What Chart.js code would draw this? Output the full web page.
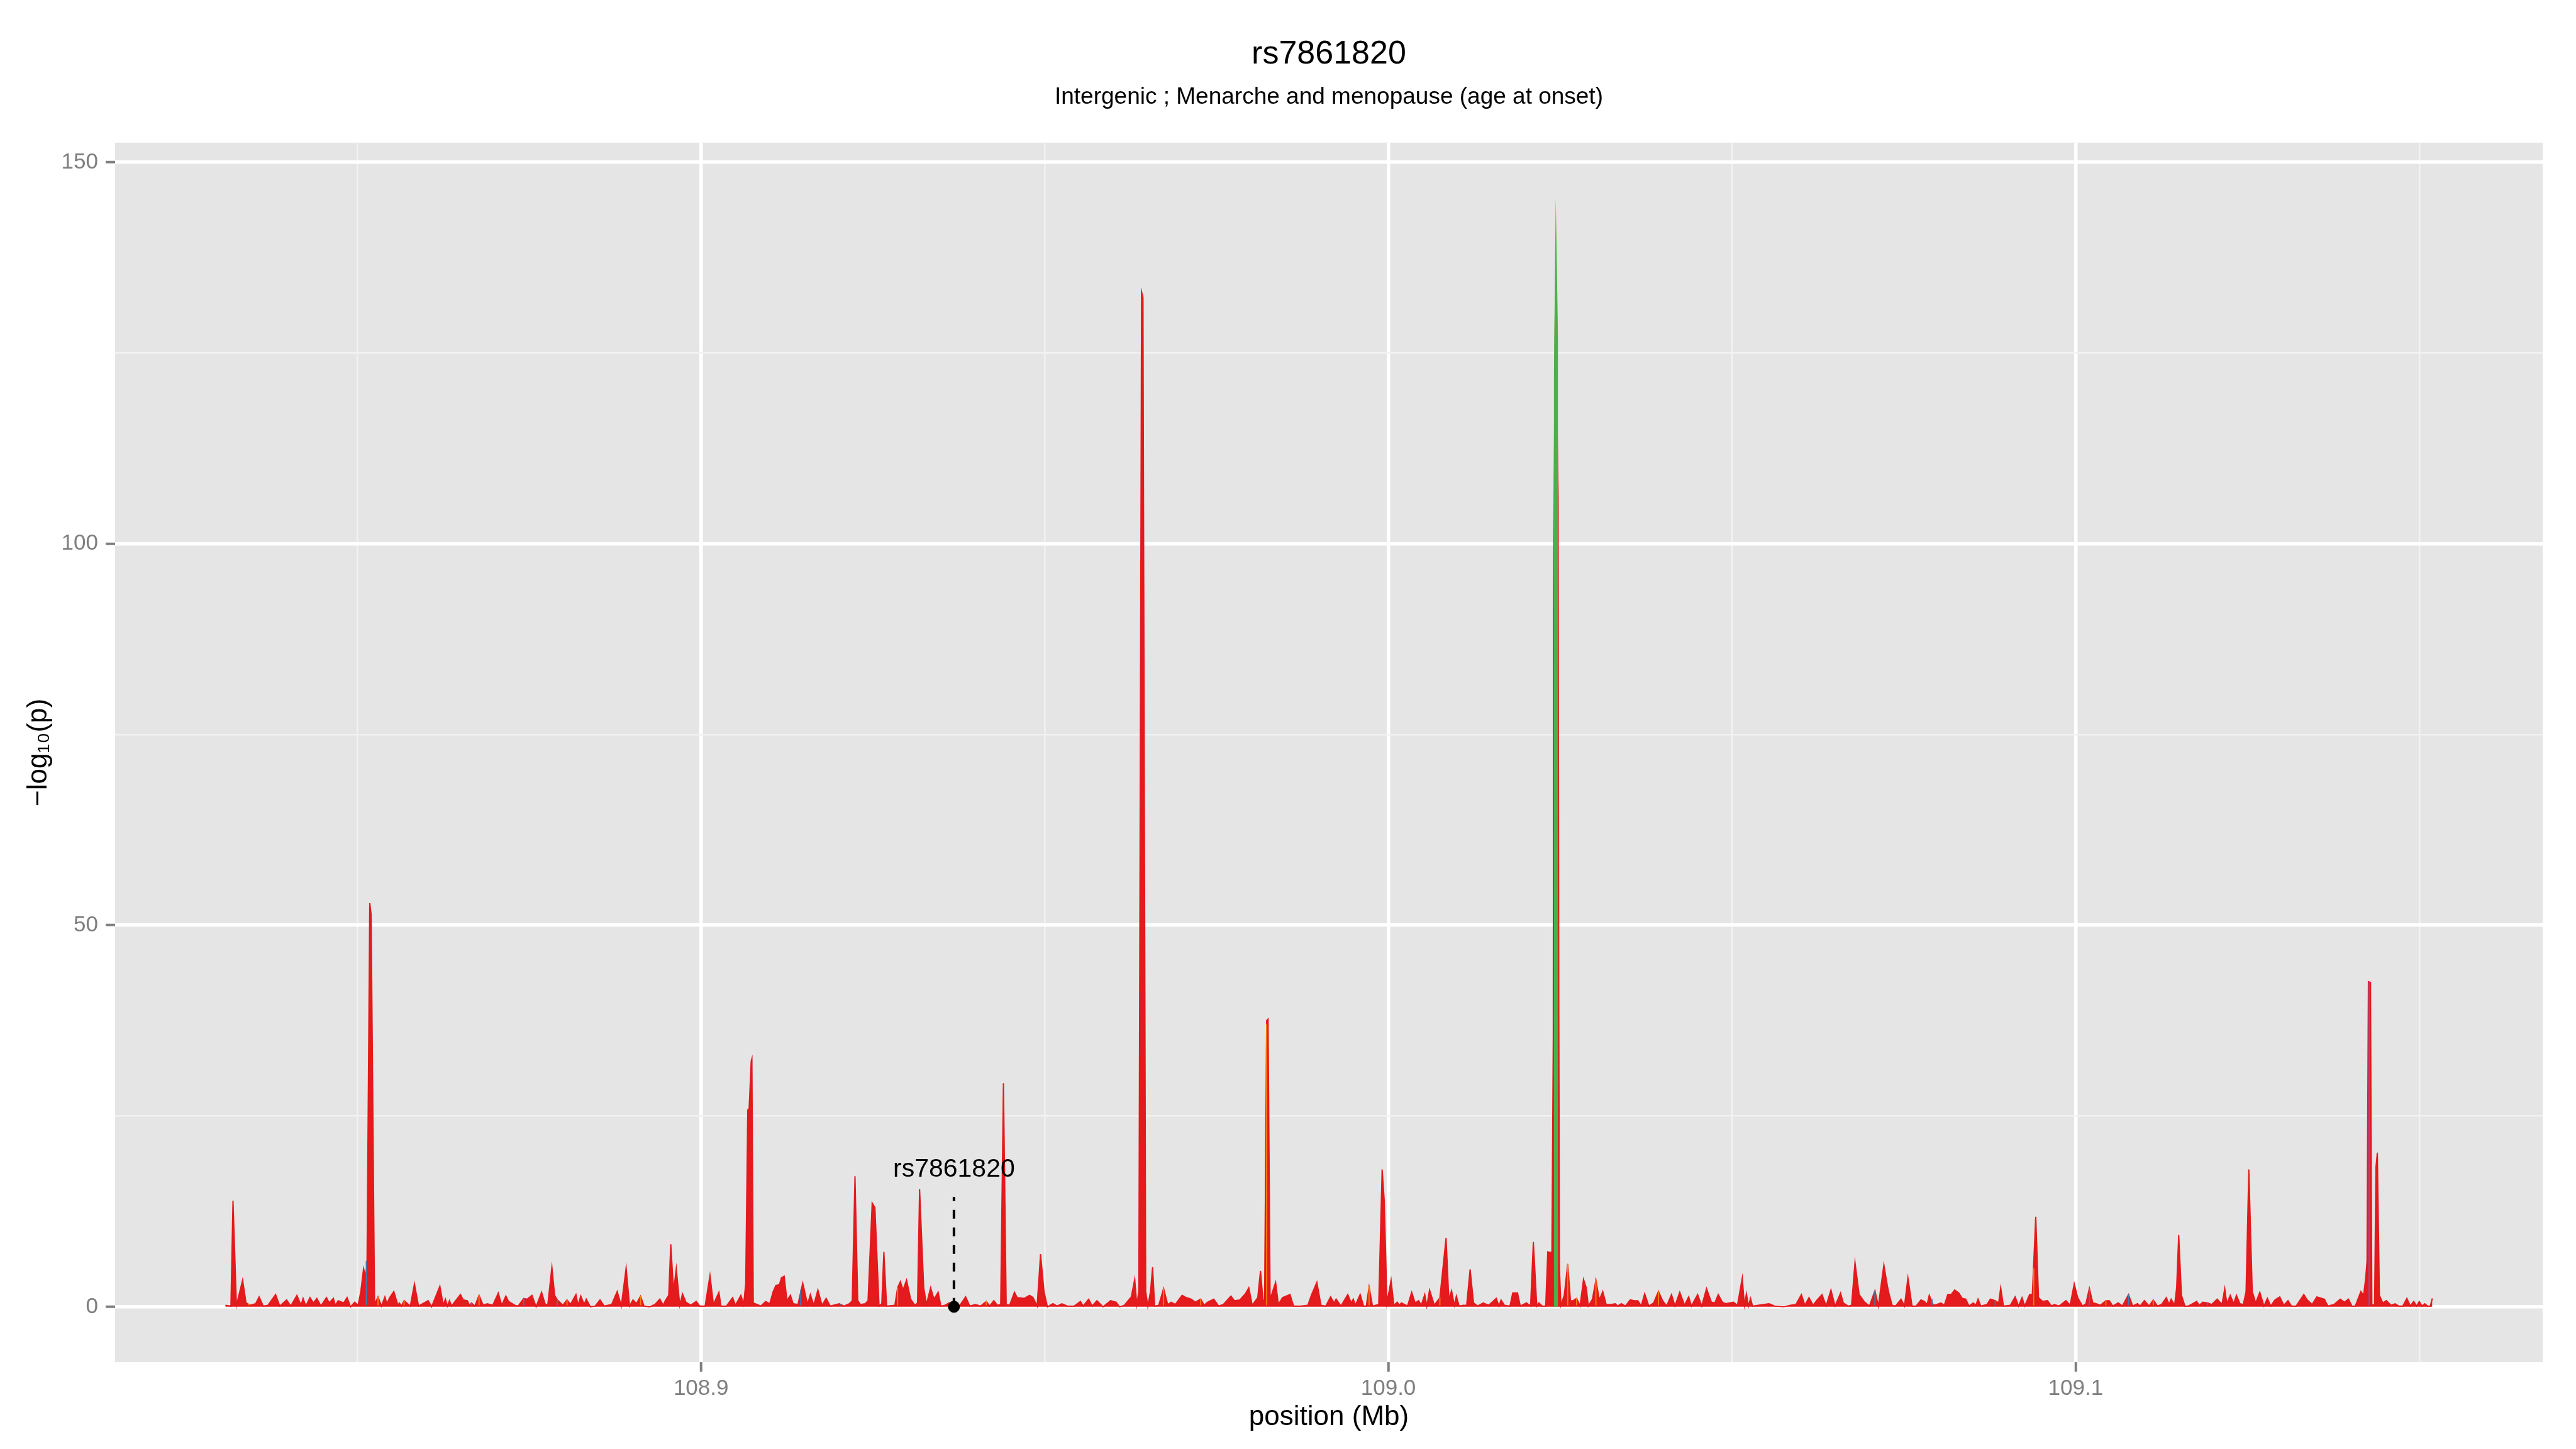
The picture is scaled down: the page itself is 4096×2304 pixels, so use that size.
<!DOCTYPE html>
<html lang="en">
<head>
<meta charset="UTF-8">
<title>rs7861820 - regional association</title>
<script src="https://cdn.jsdelivr.net/npm/chart.js"></script>
<style>
  html, body { margin: 0; padding: 0; background: #ffffff; }
  canvas { display: block; }
</style>
</head>
<body>
<canvas id="locus" width="4096" height="2304"></canvas>
<script>
// SNP positions (Mb) and -log10(p)
const snpPos = [
  108.8308, 108.8316, 108.8319, 108.8324, 108.8333, 108.8338, 108.8344, 108.8352, 108.8357, 108.8363,
  108.8370, 108.8381, 108.8387, 108.8397, 108.8403, 108.8412, 108.8418, 108.8421, 108.8425, 108.8431,
  108.8436, 108.8441, 108.8447, 108.8455, 108.8459, 108.8465, 108.8468, 108.8472, 108.8480, 108.8485,
  108.8490, 108.8496, 108.8501, 108.8505, 108.8509, 108.8512, 108.8514, 108.8518, 108.8520, 108.8525,
  108.8530, 108.8535, 108.8540, 108.8543, 108.8547, 108.8553, 108.8559, 108.8561, 108.8564, 108.8568,
  108.8577, 108.8583, 108.8589, 108.8603, 108.8608, 108.8620, 108.8625, 108.8628, 108.8631, 108.8634,
  108.8637, 108.8643, 108.8650, 108.8654, 108.8660, 108.8663, 108.8666, 108.8671, 108.8677, 108.8683,
  108.8689, 108.8697, 108.8705, 108.8710, 108.8716, 108.8720, 108.8729, 108.8734, 108.8742, 108.8747,
  108.8754, 108.8760, 108.8768, 108.8773, 108.8777, 108.8783, 108.8787, 108.8791, 108.8799, 108.8805,
  108.8810, 108.8818, 108.8821, 108.8825, 108.8830, 108.8833, 108.8839, 108.8846, 108.8853, 108.8859,
  108.8870, 108.8878, 108.8884, 108.8891, 108.8896, 108.8901, 108.8906, 108.8912, 108.8917, 108.8925,
  108.8933, 108.8940, 108.8945, 108.8948, 108.8953, 108.8956, 108.8960, 108.8964, 108.8969, 108.8973,
  108.8978, 108.8985, 108.8993, 108.8998, 108.9006, 108.9013, 108.9018, 108.9026, 108.9029, 108.9037,
  108.9046, 108.9050, 108.9058, 108.9062, 108.9065, 108.9068, 108.9070, 108.9073, 108.9074, 108.9076,
  108.9087, 108.9094, 108.9100, 108.9105, 108.9109, 108.9114, 108.9117, 108.9121, 108.9125, 108.9130,
  108.9134, 108.9141, 108.9148, 108.9155, 108.9159, 108.9164, 108.9170, 108.9176, 108.9182, 108.9188,
  108.9201, 108.9208, 108.9216, 108.9220, 108.9224, 108.9228, 108.9232, 108.9239, 108.9243, 108.9249,
  108.9253, 108.9259, 108.9263, 108.9266, 108.9270, 108.9282, 108.9286, 108.9290, 108.9294, 108.9299,
  108.9305, 108.9311, 108.9315, 108.9318, 108.9324, 108.9328, 108.9334, 108.9339, 108.9345, 108.9349,
  108.9355, 108.9361, 108.9368, 108.9376, 108.9385, 108.9391, 108.9399, 108.9407, 108.9415, 108.9420,
  108.9426, 108.9431, 108.9436, 108.9440, 108.9444, 108.9449, 108.9456, 108.9460, 108.9470, 108.9478,
  108.9483, 108.9489, 108.9494, 108.9499, 108.9504, 108.9512, 108.9518, 108.9525, 108.9533, 108.9543,
  108.9552, 108.9556, 108.9564, 108.9569, 108.9576, 108.9585, 108.9596, 108.9604, 108.9609, 108.9616,
  108.9626, 108.9631, 108.9634, 108.9637, 108.9641, 108.9643, 108.9647, 108.9650, 108.9654, 108.9657,
  108.9660, 108.9666, 108.9673, 108.9679, 108.9684, 108.9690, 108.9700, 108.9706, 108.9713, 108.9719,
  108.9727, 108.9732, 108.9737, 108.9746, 108.9753, 108.9760, 108.9771, 108.9776, 108.9784, 108.9792,
  108.9797, 108.9802, 108.9810, 108.9814, 108.9818, 108.9820, 108.9823, 108.9825, 108.9828, 108.9836,
  108.9840, 108.9846, 108.9857, 108.9862, 108.9872, 108.9883, 108.9888, 108.9896, 108.9902, 108.9909,
  108.9916, 108.9921, 108.9924, 108.9931, 108.9941, 108.9946, 108.9949, 108.9952, 108.9959, 108.9964,
  108.9968, 108.9972, 108.9977, 108.9986, 108.9991, 108.9994, 108.9998, 109.0004, 109.0008, 109.0013,
  109.0016, 109.0019, 109.0028, 109.0034, 109.0039, 109.0044, 109.0048, 109.0053, 109.0056, 109.0060,
  109.0067, 109.0075, 109.0084, 109.0088, 109.0092, 109.0096, 109.0099, 109.0103, 109.0109, 109.0114,
  109.0119, 109.0124, 109.0130, 109.0138, 109.0146, 109.0157, 109.0161, 109.0164, 109.0169, 109.0177,
  109.0181, 109.0188, 109.0192, 109.0201, 109.0207, 109.0211, 109.0216, 109.0219, 109.0224, 109.0229,
  109.0232, 109.0236, 109.0238, 109.0240, 109.02405, 109.0243, 109.0247, 109.0248, 109.0249, 109.0251,
  109.0256, 109.0261, 109.0265, 109.0269, 109.0274, 109.0279, 109.0284, 109.0288, 109.0291, 109.0297,
  109.0302, 109.0307, 109.0312, 109.0317, 109.0324, 109.0330, 109.0334, 109.0339, 109.0345, 109.0352,
  109.0358, 109.0363, 109.0368, 109.0373, 109.0379, 109.0386, 109.0393, 109.0399, 109.0405, 109.0412,
  109.0417, 109.0424, 109.0431, 109.0437, 109.0441, 109.0450, 109.0456, 109.0463, 109.0470, 109.0475,
  109.0480, 109.0486, 109.0491, 109.0502, 109.0508, 109.0515, 109.0518, 109.0521, 109.0524, 109.0527,
  109.0530, 109.0538, 109.0546, 109.0554, 109.0562, 109.0575, 109.0585, 109.0593, 109.0601, 109.0606,
  109.0612, 109.0618, 109.0624, 109.0631, 109.0637, 109.0644, 109.0650, 109.0658, 109.0662, 109.0669,
  109.0674, 109.0679, 109.0685, 109.0693, 109.0700, 109.0708, 109.0713, 109.0721, 109.0726, 109.0728,
  109.0733, 109.0738, 109.0746, 109.0751, 109.0756, 109.0762, 109.0768, 109.0775, 109.0780, 109.0784,
  109.0787, 109.0793, 109.0798, 109.0804, 109.0809, 109.0814, 109.0819, 109.0824, 109.0830, 109.0835,
  109.0840, 109.0845, 109.0851, 109.0855, 109.0858, 109.0862, 109.0871, 109.0876, 109.0883, 109.0888,
  109.0891, 109.0895, 109.0905, 109.0912, 109.0917, 109.0922, 109.0926, 109.0933, 109.0937, 109.0942,
  109.0946, 109.0952, 109.0959, 109.0965, 109.0969, 109.0976, 109.0986, 109.0992, 109.0998, 109.1003,
  109.1010, 109.1015, 109.1020, 109.1025, 109.1030, 109.1036, 109.1044, 109.1049, 109.1054, 109.1062,
  109.1068, 109.1077, 109.1083, 109.1090, 109.1094, 109.1100, 109.1107, 109.1113, 109.1119, 109.1125,
  109.1132, 109.1136, 109.1139, 109.1144, 109.1147, 109.1150, 109.1154, 109.1159, 109.1164, 109.1170,
  109.1176, 109.1180, 109.1185, 109.1192, 109.1198, 109.1206, 109.1213, 109.1217, 109.1220, 109.1225,
  109.1230, 109.1234, 109.1239, 109.1244, 109.1248, 109.1252, 109.1257, 109.1262, 109.1268, 109.1274,
  109.1279, 109.1284, 109.1290, 109.1297, 109.1303, 109.1309, 109.1314, 109.1321, 109.1332, 109.1337,
  109.1344, 109.1351, 109.1362, 109.1367, 109.1376, 109.1385, 109.1391, 109.1397, 109.1402, 109.1407,
  109.1415, 109.1419, 109.1422, 109.1424, 109.1426, 109.1429, 109.1431, 109.1435, 109.1437, 109.1439,
  109.1442, 109.1447, 109.1452, 109.1459, 109.1465, 109.1470, 109.1476, 109.1482, 109.1487, 109.1492,
  109.1496, 109.1500, 109.1504, 109.1508, 109.1512, 109.1516, 109.1519
];
const snpLogP = [
  0.2, 0.1, 13.9, 0.2, 3.5, 0.5, 0.2, 0.4, 1.3, 0.1,
  0.2, 1.6, 0.1, 0.9, 0.1, 1.5, 0.2, 1.1, 0.1, 1.2,
  0.5, 1.1, 0.1, 1.2, 0.5, 1.1, 0.2, 0.8, 0.5, 1.2,
  0.0, 0.6, 0.2, 2.0, 5.0, 4.0, 5.5, 52.9, 51.4, 0.3,
  1.3, 0.1, 1.3, 0.4, 1.2, 2.0, 0.2, 0.5, 0.1, 0.8,
  0.1, 3.0, 0.1, 0.8, 0.0, 2.7, 0.2, 1.0, 0.1, 0.8,
  0.1, 0.8, 1.6, 0.9, 0.8, 0.2, 0.5, 0.1, 1.5, 0.2,
  0.4, 0.2, 1.8, 0.2, 1.4, 0.7, 0.2, 0.1, 1.1, 1.0,
  1.5, 0.0, 1.9, 0.4, 0.2, 5.2, 1.5, 0.9, 0.2, 0.9,
  0.3, 1.6, 0.2, 1.4, 0.3, 1.0, 0.0, 0.1, 0.9, 0.1,
  0.3, 2.0, 0.1, 5.1, 0.1, 0.9, 0.4, 1.4, 0.1, 0.0,
  0.3, 1.0, 0.2, 0.8, 1.5, 8.2, 2.0, 5.0, 0.2, 1.7,
  0.6, 0.2, 0.7, 0.1, 0.1, 4.1, 0.3, 1.9, 0.1, 0.1,
  1.2, 0.2, 1.5, 0.3, 3.0, 25.8, 26.0, 32.2, 32.5, 0.5,
  0.1, 0.7, 0.4, 2.0, 2.8, 2.9, 3.8, 4.0, 0.8, 1.5,
  0.4, 0.3, 3.1, 0.3, 1.6, 0.2, 2.2, 0.2, 1.1, 0.1,
  0.4, 0.1, 0.4, 0.8, 17.1, 0.8, 0.3, 0.4, 0.8, 13.6,
  13.0, 0.1, 0.4, 7.2, 0.1, 0.2, 2.5, 3.3, 2.2, 3.5,
  1.0, 0.2, 0.5, 15.4, 2.5, 0.3, 2.5, 1.0, 1.9, 0.1,
  0.2, 0.5, 0.4, 0.1, 1.3, 0.1, 0.3, 0.1, 0.7, 0.1,
  0.8, 0.2, 0.3, 29.3, 0.3, 0.2, 1.9, 1.2, 1.1, 1.5,
  1.2, 0.1, 6.9, 2.0, 0.0, 0.4, 0.1, 0.4, 0.1, 0.1,
  0.7, 0.1, 1.0, 0.1, 0.8, 0.0, 0.8, 0.6, 0.0, 0.2,
  1.3, 3.6, 0.3, 2.0, 133.0, 132.3, 2.0, 0.1, 2.0, 5.2,
  0.1, 0.2, 2.4, 0.3, 0.6, 0.3, 1.5, 1.2, 1.0, 0.6,
  1.0, 0.2, 0.6, 1.0, 0.1, 0.3, 1.4, 0.8, 0.9, 1.7,
  2.5, 0.2, 1.2, 4.7, 0.5, 1.0, 37.5, 37.7, 1.0, 3.2,
  0.3, 1.2, 1.6, 0.1, 0.1, 0.2, 1.5, 3.2, 0.2, 0.1,
  1.3, 0.5, 1.0, 0.1, 1.6, 0.5, 1.0, 0.2, 1.6, 0.1,
  0.1, 2.6, 0.1, 0.3, 18.0, 14.0, 0.5, 3.5, 0.2, 0.6,
  0.2, 0.5, 0.1, 1.9, 0.5, 0.8, 0.2, 1.6, 0.1, 2.2,
  0.2, 1.2, 9.0, 1.0, 2.1, 0.2, 1.4, 0.1, 0.2, 0.2,
  4.9, 0.5, 0.1, 0.5, 0.2, 1.1, 0.1, 0.9, 0.2, 0.1,
  1.8, 1.8, 0.1, 0.5, 0.1, 8.5, 0.1, 0.5, 0.1, 0.1,
  7.2, 7.1, 7.2, 35.0, 91.0, 132.0, 106.0, 40.0, 5.0, 0.2,
  1.5, 5.6, 0.8, 0.8, 1.1, 0.1, 3.6, 2.5, 0.1, 1.0,
  3.5, 0.9, 2.0, 0.3, 0.3, 0.4, 0.1, 0.4, 0.1, 0.9,
  0.8, 0.8, 0.1, 1.7, 0.1, 0.5, 2.0, 0.8, 0.1, 1.6,
  0.1, 1.9, 0.2, 1.3, 0.1, 1.6, 0.1, 2.4, 0.6, 0.5,
  1.6, 0.6, 0.4, 0.6, 0.2, 3.8, 0.2, 1.7, 0.1, 1.1,
  0.1, 0.2, 0.3, 0.4, 0.1, 0.0, 0.2, 0.3, 1.6, 0.2,
  1.2, 0.2, 0.9, 1.6, 0.1, 2.2, 0.1, 1.8, 0.5, 0.1,
  0.2, 5.8, 1.6, 0.6, 0.1, 2.1, 0.1, 5.5, 2.8, 1.9,
  0.2, 0.1, 1.0, 0.1, 3.8, 0.1, 0.1, 0.9, 0.7, 0.3,
  1.5, 0.2, 0.3, 0.5, 0.2, 1.6, 1.6, 2.2, 1.8, 1.1,
  1.0, 0.1, 0.5, 0.2, 1.0, 0.1, 0.3, 1.0, 0.8, 0.5,
  2.5, 0.1, 0.2, 1.3, 0.1, 1.2, 0.1, 1.6, 1.6, 11.8,
  1.2, 0.7, 0.8, 0.1, 0.3, 0.1, 0.8, 0.2, 3.0, 1.2,
  0.1, 0.4, 2.4, 0.5, 0.4, 0.2, 0.8, 0.8, 0.1, 0.5,
  0.1, 1.6, 0.1, 0.4, 0.1, 0.8, 0.1, 0.9, 0.1, 0.3,
  1.2, 0.3, 1.0, 0.2, 2.5, 9.4, 1.5, 0.1, 0.1, 0.4,
  0.7, 0.2, 0.6, 0.5, 0.3, 1.0, 0.3, 2.4, 0.4, 1.5,
  0.4, 1.5, 0.4, 0.3, 2.0, 18.0, 2.0, 0.5, 1.9, 0.1,
  1.1, 0.1, 0.9, 1.3, 0.2, 0.8, 0.1, 0.1, 1.6, 0.9,
  0.3, 1.3, 1.0, 0.1, 0.3, 1.0, 0.6, 1.0, 0.1, 0.1,
  2.0, 1.5, 3.7, 6.0, 42.6, 42.5, 0.3, 0.2, 18.3, 20.2,
  1.5, 0.5, 0.8, 0.2, 0.4, 0.1, 0.1, 1.1, 0.1, 0.7,
  0.1, 0.7, 0.1, 0.4, 0.1, 0.1, 1.1
];

// SNPs in the other LD classes, drawn over the red area
const greenPos = [109.02407, 109.02409, 109.02436, 109.02469, 109.02471];
const greenLogP = [0, 122, 145.3, 127, 0];
const orangePos = [108.8342, 108.8530, 108.8568, 108.8677, 108.8805, 108.8912, 108.9286, 108.9415, 108.9673, 108.9727,
                   108.9823, 108.9972, 109.0075, 109.0261, 109.0274, 109.0302, 109.0393, 109.0939, 109.1044, 109.1113];
const orangeLogP = [0.4, 1.3, 0.8, 1.5, 0.9, 1.4, 2.5, 0.7, 2.4, 1.0,
                    37.0, 2.6, 1.2, 5.6, 1.1, 3.5, 2.0, 5.0, 0.8, 0.9];
const bluePos = [108.8513, 108.8666, 108.8742, 108.8791, 108.9145, 108.9203, 109.0708, 109.0791, 109.0883, 109.1077, 109.1192];
const blueLogP = [6.0, 0.5, 1.1, 0.9, 2.2, 0.3, 2.1, 1.0, 0.8, 1.6, 0.5];
const purplePos = [109.1020, 109.1427];
const purpleLogP = [2.4, 42.5];

// lead SNP annotation
const leadLabel = 'rs7861820';
const leadPos = 108.9368;
const leadLineTop = 14.4;
const leadLabelY = 18;

// axis ticks
const xMajor = [108.9, 109.0, 109.1];
const xMinor = [108.85, 108.95, 109.05, 109.15];
const yMajor = [0, 50, 100, 150];
const yMinor = [25, 75, 125];

const FONT = '"Liberation Sans", Arial, Helvetica, sans-serif';
Chart.defaults.font.family = FONT;

// ggplot-style 5% expansion of the data range
const allX = snpPos;
const allY = snpLogP.concat(greenLogP);
const xSpan = Math.max(...allX) - Math.min(...allX);
const ySpan = Math.max(...allY) - Math.min(...allY);
const xMin = Math.min(...allX) - 0.05 * xSpan, xMax = Math.max(...allX) + 0.05 * xSpan;
const yMin = Math.min(...allY) - 0.05 * ySpan, yMax = Math.max(...allY) + 0.05 * ySpan;

const pts = (xs, ys) => xs.map((x, i) => ({ x: x, y: ys[i] }));
const isMajor = (list, v) => list.some(m => Math.abs(m - v) < 1e-9);

function sliver(label, xs, ys, color, order) {
  return {
    type: 'bar', label: label, data: pts(xs, ys), order: order,
    backgroundColor: color, borderWidth: 0, barThickness: 1.2, grouped: false
  };
}

const panelBg = {
  id: 'panelBg',
  beforeDraw(chart) {
    const { ctx, chartArea: a } = chart;
    ctx.save();
    ctx.fillStyle = '#E5E5E5';
    ctx.fillRect(a.left, a.top, a.right - a.left, a.bottom - a.top);
    ctx.restore();
  }
};

const leadText = {
  id: 'leadText',
  afterDatasetsDraw(chart) {
    const { ctx, scales } = chart;
    ctx.save();
    ctx.font = '41px ' + FONT;
    ctx.fillStyle = '#000000';
    ctx.textAlign = 'center';
    ctx.textBaseline = 'middle';
    ctx.fillText(leadLabel, scales.x.getPixelForValue(leadPos), scales.y.getPixelForValue(leadLabelY));
    ctx.restore();
  }
};

function gridOpts(major) {
  return {
    color: c => isMajor(major, c.tick.value) ? '#FFFFFF' : '#F2F2F2',
    lineWidth: c => isMajor(major, c.tick.value) ? 5.5 : 2.5,
    tickColor: c => isMajor(major, c.tick.value) ? '#7F7F7F' : 'rgba(0,0,0,0)',
    tickWidth: 4,
    tickLength: 15,
    drawTicks: true,
    offset: false
  };
}

new Chart(document.getElementById('locus'), {
  type: 'line',
  data: {
    datasets: [
      { label: 'lead', data: [{ x: leadPos, y: 0 }], order: 0, showLine: false,
        pointRadius: 9.5, pointBackgroundColor: '#000000', pointBorderWidth: 0 },
      { label: 'leadLine', data: [{ x: leadPos, y: 0 }, { x: leadPos, y: leadLineTop }], order: 1,
        borderColor: '#000000', borderWidth: 4, borderDash: [14, 14], pointRadius: 0, fill: false },
      sliver('purple', purplePos, purpleLogP, '#984EA3', 2),
      sliver('blue', bluePos, blueLogP, '#377EB8', 3),
      sliver('orange', orangePos, orangeLogP, '#FF7F00', 4),
      { label: 'green', data: pts(greenPos, greenLogP), order: 5, fill: 'origin',
        backgroundColor: '#4DAF4A', borderColor: 'rgba(0,0,0,0)', borderWidth: 0, pointRadius: 0, tension: 0 },
      { label: 'red', data: pts(snpPos, snpLogP), order: 6, fill: 'origin',
        backgroundColor: '#E41A1C', borderColor: '#E41A1C', borderWidth: 2, pointRadius: 0, tension: 0 }
    ]
  },
  options: {
    responsive: false,
    animation: false,
    events: [],
    layout: { padding: { left: 0, right: 53, top: 0, bottom: 0 } },
    plugins: {
      legend: { display: false },
      tooltip: { enabled: false },
      // fullSize off so the titles centre over the panel, as ggplot does
      title: {
        display: true, fullSize: false, text: 'rs7861820', color: '#000000',
        font: { size: 52, weight: 'normal' }, padding: { top: 55, bottom: 0 }
      },
      subtitle: {
        display: true, fullSize: false, text: 'Intergenic ; Menarche and menopause (age at onset)', color: '#000000',
        font: { size: 37, weight: 'normal' }, padding: { top: 15, bottom: 50 }
      }
    },
    scales: {
      x: {
        type: 'linear', min: xMin, max: xMax, bounds: 'data', offset: false,
        afterBuildTicks: s => { s.ticks = xMajor.concat(xMinor).sort((a, b) => a - b).map(v => ({ value: v })); },
        afterFit: s => { s.height = 138; },
        grid: gridOpts(xMajor),
        border: { display: false },
        ticks: {
          autoSkip: false, maxRotation: 0, padding: 6, color: '#7F7F7F', font: { size: 35 },
          callback: v => isMajor(xMajor, v) ? v.toFixed(1) : ''
        },
        title: {
          display: true, text: 'position (Mb)', color: '#000000',
          font: { size: 44 }, padding: { top: 0, bottom: 24 }
        }
      },
      y: {
        type: 'linear', min: yMin, max: yMax, bounds: 'data',
        afterBuildTicks: s => { s.ticks = yMajor.concat(yMinor).sort((a, b) => a - b).map(v => ({ value: v })); },
        afterFit: s => { s.width = 183; },
        grid: gridOpts(yMajor),
        border: { display: false },
        ticks: {
          autoSkip: false, padding: 12, color: '#7F7F7F', font: { size: 35 },
          callback: v => isMajor(yMajor, v) ? String(v) : ''
        },
        title: {
          display: true, text: '\u2212log\u2081\u2080(p)', color: '#000000',
          font: { size: 44 }, padding: { top: 35, bottom: 0 }
        }
      }
    }
  },
  plugins: [panelBg, leadText]
});
</script>
</body>
</html>
